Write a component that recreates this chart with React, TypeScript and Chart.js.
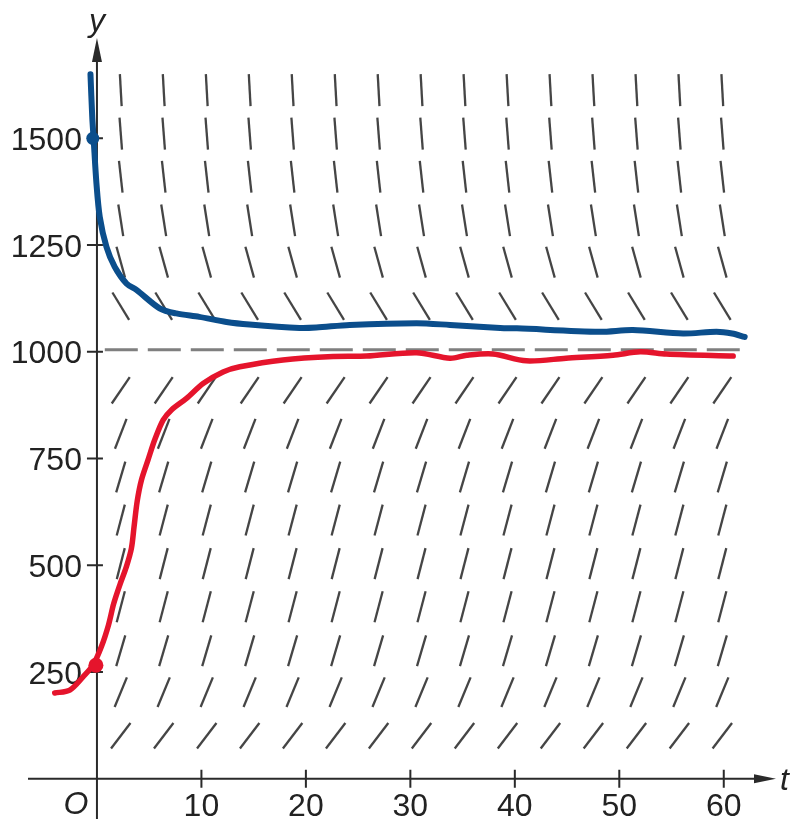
import React, { useEffect, useRef } from "react";
import { Chart, registerables } from "chart.js";

Chart.register(...registerables);

// ---- slope field ----
const slopeColumnsT = [2.28, 6.39, 10.51, 14.62, 18.73, 22.85, 26.96, 31.07, 35.18, 39.3, 43.41, 47.52, 51.64, 55.75, 59.86];
const slopeRowsY = [101, 203, 300, 403, 504, 606, 707, 808, 910, 1107, 1210, 1308, 1410, 1511, 1613];
const slopeRowsDyDt = [32, 59, 83, 93, 95, 93, 82, 63, 36, -40, -88, -157, -220, -315, -440];

// ---- solution curves ----
const upperCurveT = [-0.62, -0.45, -0.32, -0.05, 0.27, 0.91, 1.7, 2.82, 3.78, 6.0, 7.6, 9.8, 12.4, 14.6, 19.4, 21.0, 24.2, 30.6, 33.8, 38.6, 40.2, 48.1, 51.3, 56.1, 59.3, 60.8, 62.0];
const upperCurveY = [1650, 1550, 1500, 1395, 1316, 1246, 1199, 1160, 1145, 1102, 1090, 1082, 1070, 1064, 1056, 1057, 1063, 1067, 1063, 1056, 1055, 1047, 1051, 1043, 1047, 1043, 1035];

const lowerCurveT = [-4.04, -2.6, -1.33, -0.37, 0.43, 1.1, 1.6, 2.2, 2.82, 3.3, 3.55, 3.85, 4.26, 4.89, 5.53, 6.33, 7.13, 8.57, 10.16, 12.07, 13.67, 17.8, 22.6, 25.8, 30.6, 33.8, 35.4, 37.9, 41.1, 44.9, 49.4, 52.0, 54.5, 60.9];
const lowerCurveY = [201, 208, 239, 267, 310, 360, 410, 455, 497, 540, 590, 650, 700, 747, 794, 840, 864, 891, 926, 953, 965, 981, 989, 990, 998, 985, 992, 995, 979, 985, 992, 1000, 995, 990];

const upperStartT = [-0.4];
const upperStartY = [1500];
const lowerStartT = [-0.1];
const lowerStartY = [266];

const equilibriumT = [0.75, 61.53];
const equilibriumY = [1005, 1005];

// ---- axes ----
const xTickValues = [10, 20, 30, 40, 50, 60];
const yTickValues = [250, 500, 750, 1000, 1250, 1500];
const xAxisTitle = "t";
const yAxisTitle = "y";
const originLabel = "O";

const FONT = '32px "Liberation Sans", Arial, sans-serif';
const FONT_IT = 'italic 32px "Liberation Sans", Arial, sans-serif';

const axesPlugin = {
  id: "customAxes",
  beforeDatasetsDraw(chart: any) {
    const { ctx, chartArea } = chart;
    const xs = chart.scales.x;
    const ys = chart.scales.y;
    const x0 = xs.getPixelForValue(0);
    const y0 = ys.getPixelForValue(0);
    const right = chartArea.right;
    const top = chartArea.top;
    ctx.save();
    ctx.strokeStyle = "#2a2a2a";
    ctx.fillStyle = "#2a2a2a";
    ctx.lineWidth = 2;
    // x axis
    ctx.beginPath();
    ctx.moveTo(chartArea.left, y0);
    ctx.lineTo(right - 15, y0);
    ctx.stroke();
    ctx.beginPath();
    ctx.moveTo(right, y0);
    ctx.lineTo(right - 22, y0 - 4.5);
    ctx.lineTo(right - 22, y0 + 4.5);
    ctx.closePath();
    ctx.fill();
    // y axis
    ctx.beginPath();
    ctx.moveTo(x0, chartArea.bottom + 2);
    ctx.lineTo(x0, top + 15);
    ctx.stroke();
    ctx.beginPath();
    ctx.moveTo(x0, top);
    ctx.lineTo(x0 - 5, top + 24);
    ctx.lineTo(x0 + 5, top + 24);
    ctx.closePath();
    ctx.fill();
    // ticks
    ctx.beginPath();
    xTickValues.forEach((v) => {
      const px = xs.getPixelForValue(v);
      ctx.moveTo(px, y0 - 9);
      ctx.lineTo(px, y0 + 9);
    });
    yTickValues.forEach((v) => {
      const py = ys.getPixelForValue(v);
      ctx.moveTo(x0 - 10, py);
      ctx.lineTo(x0 + 6, py);
    });
    ctx.stroke();
    // labels
    ctx.fillStyle = "#222222";
    ctx.font = FONT;
    ctx.textBaseline = "alphabetic";
    ctx.textAlign = "right";
    yTickValues.forEach((v) => {
      const py = ys.getPixelForValue(v);
      ctx.fillText(String(v), x0 - 15, py + 11.5);
    });
    ctx.textAlign = "center";
    xTickValues.forEach((v) => {
      const px = xs.getPixelForValue(v);
      ctx.fillText(String(v), px, y0 + 37.5);
    });
    ctx.font = FONT_IT;
    ctx.fillText(originLabel, x0 - 21, y0 + 35);
    ctx.fillText(yAxisTitle, x0, top - 7.5);
    ctx.textAlign = "left";
    ctx.fillText(xAxisTitle, right + 4, y0 + 11);
    ctx.restore();
  },
};

export default function App() {
  const canvasRef = useRef<HTMLCanvasElement | null>(null);

  useEffect(() => {
    const canvas = canvasRef.current;
    if (!canvas) return;

    const slopeData: any[] = [];
    slopeRowsY.forEach((yv, i) => {
      slopeColumnsT.forEach((tv) => {
        slopeData.push({ x: tv, y: yv, s: slopeRowsDyDt[i] });
      });
    });
    const toPoints = (ts: number[], ys: number[]) => ts.map((t, i) => ({ x: t, y: ys[i] }));

    const chart = new Chart(canvas, {
      type: "scatter",
      data: {
        datasets: [
          {
            label: "upper start",
            data: toPoints(upperStartT, upperStartY),
            pointRadius: 6.5,
            pointBackgroundColor: "#0b4e8c",
            pointBorderWidth: 0,
            order: 0,
          },
          {
            label: "lower start",
            data: toPoints(lowerStartT, lowerStartY),
            pointRadius: 7.5,
            pointBackgroundColor: "#e5142c",
            pointBorderWidth: 0,
            order: 0,
          },
          {
            label: "upper",
            data: toPoints(upperCurveT, upperCurveY),
            showLine: true,
            borderColor: "#0b4e8c",
            borderWidth: 6,
            borderCapStyle: "round",
            borderJoinStyle: "round",
            tension: 0.3,
            pointRadius: 0,
            order: 1,
          },
          {
            label: "lower",
            data: toPoints(lowerCurveT, lowerCurveY),
            showLine: true,
            borderColor: "#e5142c",
            borderWidth: 5.5,
            borderCapStyle: "round",
            borderJoinStyle: "round",
            tension: 0.3,
            pointRadius: 0,
            order: 1,
          },
          {
            label: "equilibrium",
            data: toPoints(equilibriumT, equilibriumY),
            showLine: true,
            borderColor: "#7f7f7f",
            borderWidth: 3,
            borderDash: [33, 10],
            pointRadius: 0,
            order: 2,
          },
          {
            label: "slope field",
            data: slopeData,
            showLine: false,
            pointStyle: "line",
            pointRadius: 16,
            pointBorderWidth: 2.3,
            pointBorderColor: "#454545",
            pointRotation: (c: any) => {
              const raw = c.raw;
              if (!raw) return 0;
              const xs = c.chart.scales.x;
              const ys = c.chart.scales.y;
              const pxT = Math.abs(xs.getPixelForValue(1) - xs.getPixelForValue(0));
              const pxY = Math.abs(ys.getPixelForValue(1) - ys.getPixelForValue(0));
              return (-Math.atan2(raw.s * pxY, pxT) * 180) / Math.PI;
            },
            order: 3,
          } as any,
        ],
      },
      options: {
        responsive: true,
        maintainAspectRatio: false,
        devicePixelRatio: 1,
        animation: false,
        events: [],
        layout: { autoPadding: false, padding: { left: 28, right: 19, top: 38, bottom: 0 } },
        plugins: { legend: { display: false }, tooltip: { enabled: false }, title: { display: false } },
        scales: {
          x: { type: "linear", min: -6.6, max: 65, display: false },
          y: { type: "linear", min: -94, max: 1735, display: false },
        },
      },
      plugins: [axesPlugin],
    });
    return () => chart.destroy();
  }, []);

  return (
    <div style={{ position: "fixed", left: 0, top: 0, width: 795, height: 819, background: "#fff" }}>
      <canvas ref={canvasRef} />
    </div>
  );
}
